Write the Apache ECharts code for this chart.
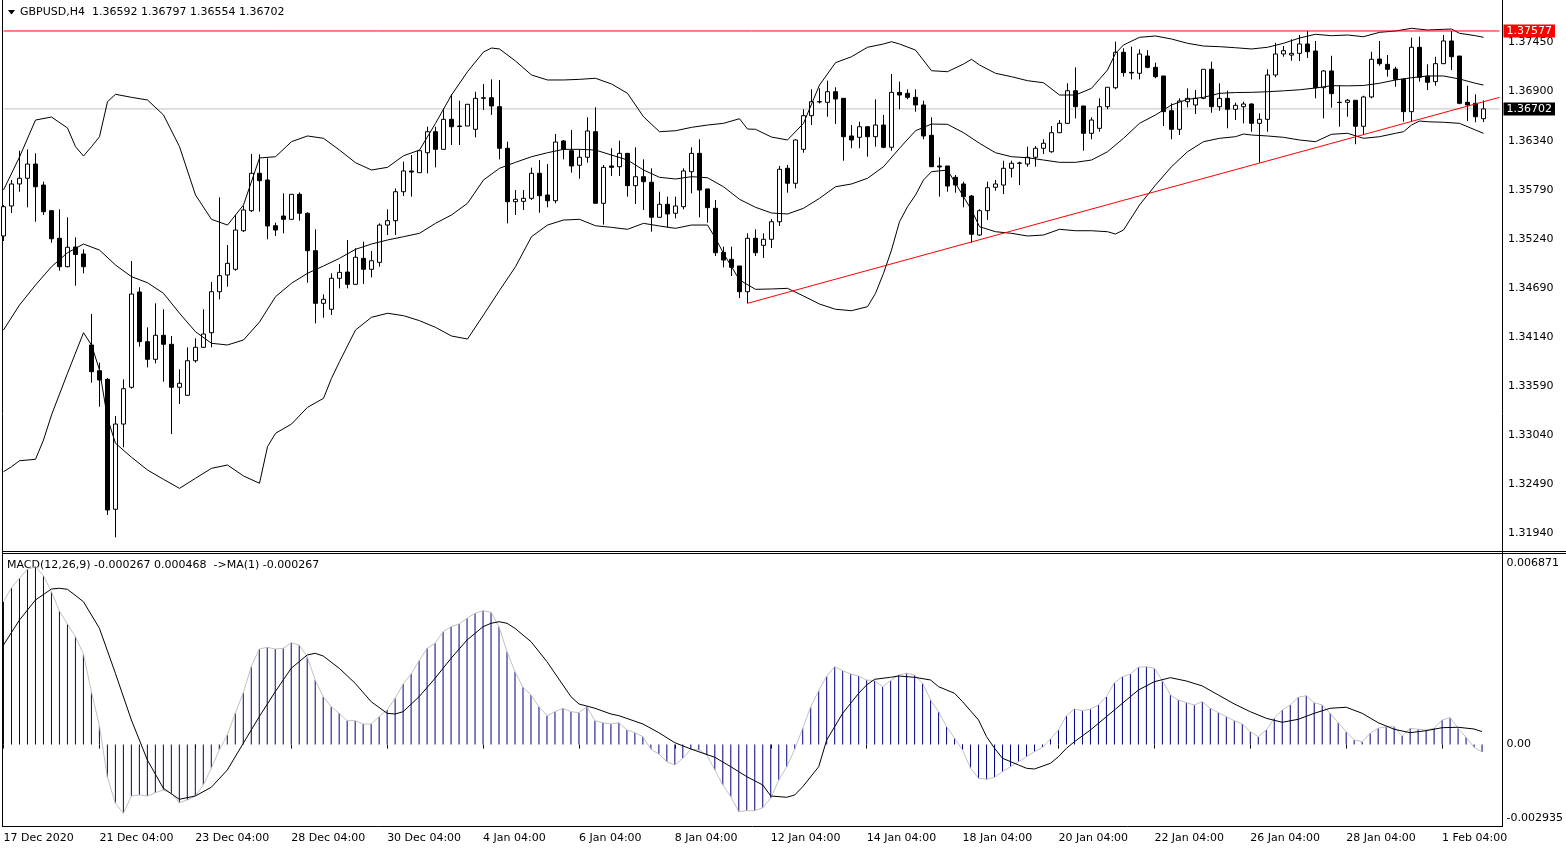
<!DOCTYPE html>
<html><head><meta charset="utf-8">
<script src="https://cdn.jsdelivr.net/npm/echarts/dist/echarts.min.js"></script>
<style>html,body{margin:0;padding:0;background:#fff}#c{width:1566px;height:850px}</style>
</head><body><div id="c"></div>
<script>
// ---------- DATA ----------
const symbolName = 'GBPUSD,H4';
const tickIndex = [0,12,24,36,48,60,72,84,96,108,120,132,144,156,168,180];
const tickLabels = ['17 Dec 2020','21 Dec 04:00','23 Dec 04:00','28 Dec 04:00','30 Dec 04:00','4 Jan 04:00','6 Jan 04:00','8 Jan 04:00','12 Jan 04:00','14 Jan 04:00','18 Jan 04:00','20 Jan 04:00','22 Jan 04:00','26 Jan 04:00','28 Jan 04:00','1 Feb 04:00'];
const priceTicks = [1.37450,1.36900,1.36340,1.35790,1.35240,1.34690,1.34140,1.33590,1.33040,1.32490,1.31940];
const macdTicks = [0.006871,0,-0.002935];

const open = [1.35275,1.35612,1.35859,1.35923,1.36083,1.35847,1.35559,1.35249,1.34930,1.35151,1.35073,1.34051,1.33762,1.33665,1.32206,1.33163,1.33576,1.34646,1.34088,1.33890,1.34160,1.34059,1.33576,1.33486,1.33874,1.34025,1.34189,1.34649,1.34837,1.34901,1.35334,1.35559,1.35979,1.35904,1.35390,1.35499,1.35462,1.35743,1.35530,1.35110,1.34519,1.34452,1.34800,1.34870,1.34732,1.35024,1.34901,1.34979,1.35398,1.35447,1.35772,1.36005,1.35986,1.36210,1.36446,1.36248,1.36585,1.36510,1.36510,1.36473,1.36821,1.36828,1.36727,1.36260,1.35660,1.35664,1.35698,1.35979,1.35735,1.35671,1.36342,1.36233,1.36069,1.36159,1.36446,1.35642,1.36061,1.36053,1.36203,1.35840,1.35941,1.35878,1.35485,1.35631,1.35530,1.35604,1.35997,1.36203,1.35803,1.35586,1.35092,1.35013,1.34938,1.34649,1.35249,1.35170,1.35238,1.35435,1.36035,1.35867,1.36248,1.36626,1.36783,1.36776,1.36895,1.36821,1.36398,1.36383,1.36502,1.36390,1.36521,1.36271,1.36888,1.36877,1.36832,1.36746,1.36406,1.36061,1.36061,1.35934,1.35859,1.35724,1.35286,1.35559,1.35822,1.35847,1.36035,1.36091,1.36083,1.36159,1.36260,1.36221,1.36435,1.36540,1.36906,1.36735,1.36428,1.36484,1.36727,1.36940,1.37338,1.37113,1.37102,1.37296,1.37169,1.37072,1.36682,1.36473,1.36783,1.36746,1.36821,1.37147,1.36727,1.36821,1.36698,1.36727,1.36757,1.36540,1.36585,1.37083,1.37319,1.37307,1.37326,1.37431,1.37352,1.36940,1.37128,1.36776,1.36776,1.36799,1.36507,1.36836,1.37262,1.37203,1.37150,1.37034,1.36671,1.37394,1.37068,1.37008,1.37210,1.37465,1.37296,1.36776,1.36765,1.36592];
const high = [1.35623,1.35904,1.36233,1.36248,1.36203,1.35885,1.35567,1.35575,1.35485,1.35260,1.35125,1.34399,1.33852,1.33680,1.33253,1.33665,1.34994,1.34699,1.34249,1.34519,1.34452,1.34152,1.33778,1.34025,1.34126,1.34452,1.34758,1.35709,1.35174,1.35511,1.35612,1.36196,1.36192,1.36147,1.35424,1.35754,1.35746,1.35765,1.35541,1.35350,1.34620,1.34856,1.34960,1.35230,1.35137,1.35211,1.35106,1.35417,1.35575,1.35810,1.36109,1.36184,1.36233,1.36502,1.36502,1.36709,1.36866,1.36794,1.36754,1.36895,1.36982,1.37034,1.37027,1.36334,1.35791,1.35791,1.36042,1.36128,1.36083,1.36420,1.36353,1.36465,1.36248,1.36608,1.36720,1.36072,1.36260,1.36345,1.36207,1.36271,1.36136,1.36035,1.35772,1.35716,1.35716,1.36035,1.36271,1.36361,1.35803,1.35679,1.35155,1.35155,1.34938,1.35305,1.35350,1.35305,1.35466,1.36061,1.36072,1.36361,1.36698,1.36922,1.36933,1.37019,1.36945,1.36821,1.36521,1.36558,1.36510,1.36810,1.36634,1.37094,1.37008,1.36922,1.36922,1.36794,1.36608,1.36159,1.36061,1.35960,1.35885,1.35735,1.35575,1.35885,1.35904,1.36120,1.36120,1.36109,1.36278,1.36285,1.36361,1.36510,1.36577,1.36990,1.37169,1.36735,1.36608,1.36821,1.36945,1.37457,1.37383,1.37401,1.37371,1.37363,1.37221,1.37072,1.36765,1.36821,1.36933,1.36914,1.37147,1.37232,1.36990,1.36906,1.36772,1.36783,1.36765,1.36653,1.37147,1.37445,1.37408,1.37484,1.37532,1.37577,1.37465,1.37139,1.37299,1.36963,1.36813,1.36799,1.36850,1.37344,1.37465,1.37307,1.37176,1.37046,1.37502,1.37513,1.37203,1.37288,1.37532,1.37577,1.37296,1.36963,1.36866,1.36797];
const low = [1.35219,1.35533,1.35772,1.35597,1.35435,1.35511,1.35199,1.34885,1.34923,1.34717,1.34856,1.33627,1.33358,1.32142,1.31891,1.32902,1.33560,1.34032,1.33800,1.33845,1.33639,1.33051,1.33388,1.33478,1.33852,1.34017,1.34025,1.34564,1.34705,1.34885,1.35320,1.35544,1.35548,1.35238,1.35275,1.35305,1.35460,1.35447,1.34750,1.34294,1.34357,1.34388,1.34687,1.34687,1.34730,1.34736,1.34811,1.34930,1.35286,1.35286,1.35724,1.35716,1.35986,1.35979,1.36046,1.36246,1.36297,1.36297,1.36510,1.36383,1.36690,1.36634,1.36136,1.35417,1.35511,1.35567,1.35679,1.35536,1.35597,1.35642,1.36136,1.35986,1.35918,1.36098,1.35640,1.35402,1.35949,1.35949,1.35716,1.35634,1.35567,1.35323,1.35483,1.35372,1.35473,1.35575,1.35754,1.35485,1.35424,1.35050,1.34923,1.34826,1.34578,1.34519,1.35050,1.35028,1.35140,1.35387,1.35761,1.35810,1.36210,1.36521,1.36763,1.36614,1.36532,1.36120,1.36260,1.36260,1.36165,1.36278,1.36260,1.36233,1.36698,1.36810,1.36671,1.36361,1.36050,1.35716,1.35772,1.35761,1.35597,1.35199,1.35275,1.35454,1.35783,1.35746,1.35933,1.35847,1.36053,1.36053,1.36196,1.36210,1.36431,1.36532,1.36596,1.36233,1.36361,1.36446,1.36698,1.36922,1.37064,1.37034,1.37034,1.37158,1.37046,1.36510,1.36361,1.36409,1.36720,1.36645,1.36810,1.36659,1.36682,1.36484,1.36577,1.36540,1.36446,1.36098,1.36446,1.37057,1.37288,1.37243,1.37240,1.37274,1.36821,1.36596,1.36716,1.36502,1.36614,1.36305,1.36417,1.36821,1.37187,1.37064,1.36951,1.36558,1.36558,1.37008,1.36914,1.36963,1.37206,1.37139,1.36754,1.36566,1.36552,1.36554];
const close = [1.35604,1.35859,1.35923,1.36083,1.35828,1.35548,1.35244,1.34930,1.35148,1.35067,1.34930,1.33751,1.33658,1.32198,1.33163,1.33560,1.34623,1.34088,1.33890,1.34160,1.34059,1.33576,1.33621,1.33874,1.34025,1.34174,1.34649,1.34829,1.34968,1.35342,1.35567,1.35979,1.35896,1.35387,1.35342,1.35462,1.35743,1.35530,1.35110,1.34519,1.34564,1.34800,1.34867,1.34732,1.35036,1.34901,1.34997,1.35398,1.35447,1.35772,1.36005,1.35993,1.36233,1.36446,1.36248,1.36585,1.36502,1.36504,1.36754,1.36821,1.36828,1.36735,1.36260,1.35660,1.35687,1.35698,1.35979,1.35727,1.35671,1.36330,1.36248,1.36061,1.36159,1.36454,1.35642,1.36046,1.36046,1.36203,1.35840,1.35941,1.35885,1.35485,1.35631,1.35522,1.35612,1.36005,1.36203,1.35791,1.35593,1.35087,1.35005,1.34923,1.34649,1.35249,1.35087,1.35238,1.35435,1.36024,1.35867,1.36353,1.36626,1.36783,1.36780,1.36895,1.36813,1.36390,1.36353,1.36502,1.36390,1.36521,1.36271,1.36888,1.36858,1.36832,1.36746,1.36398,1.36053,1.36050,1.35836,1.35847,1.35716,1.35294,1.35559,1.35817,1.35859,1.36035,1.36091,1.36095,1.36159,1.36260,1.36316,1.36435,1.36540,1.36906,1.36727,1.36428,1.36577,1.36727,1.36945,1.37338,1.37109,1.37105,1.37319,1.37169,1.37064,1.36671,1.36473,1.36791,1.36821,1.36821,1.37147,1.36727,1.36821,1.36698,1.36742,1.36757,1.36540,1.36585,1.37083,1.37319,1.37356,1.37326,1.37431,1.37344,1.36940,1.37128,1.36873,1.36774,1.36799,1.36507,1.36836,1.37259,1.37210,1.37147,1.37034,1.36671,1.37394,1.37057,1.37001,1.37210,1.37465,1.37288,1.36765,1.36746,1.36614,1.36702];

const bbUpper = [[0,1.35791],[2,1.36162],[4,1.36577],[6,1.36611],[8,1.36488],[9,1.36278],[10,1.36173],[11,1.36278],[12,1.36390],[13,1.36783],[14,1.36866],[16,1.36832],[18,1.36802],[20,1.36634],[22,1.36278],[24,1.35735],[26,1.35462],[28,1.35398],[30,1.35623],[32,1.36151],[34,1.36165],[36,1.36334],[38,1.36398],[40,1.36372],[42,1.36240],[44,1.36098],[46,1.36016],[48,1.36046],[50,1.36176],[52,1.36240],[54,1.36540],[56,1.36858],[58,1.37120],[60,1.37341],[61,1.37386],[62,1.37375],[64,1.37240],[66,1.37083],[68,1.37027],[70,1.37027],[72,1.37034],[74,1.37046],[76,1.36982],[78,1.36877],[80,1.36614],[82,1.36446],[84,1.36457],[86,1.36495],[88,1.36521],[90,1.36540],[92,1.36592],[93,1.36476],[94,1.36473],[96,1.36386],[98,1.36353],[100,1.36540],[102,1.36970],[104,1.37221],[106,1.37288],[108,1.37394],[110,1.37431],[111,1.37457],[112,1.37431],[114,1.37363],[116,1.37131],[118,1.37120],[120,1.37206],[121,1.37259],[122,1.37195],[124,1.37102],[126,1.37064],[128,1.37019],[130,1.36996],[132,1.36858],[134,1.36858],[136,1.36933],[138,1.37139],[139,1.37326],[140,1.37420],[142,1.37506],[144,1.37521],[146,1.37487],[148,1.37439],[150,1.37408],[152,1.37401],[154,1.37389],[156,1.37375],[158,1.37394],[160,1.37439],[162,1.37498],[164,1.37540],[166,1.37524],[168,1.37532],[170,1.37513],[172,1.37562],[174,1.37577],[176,1.37607],[178,1.37588],[180,1.37596],[181,1.37599],[182,1.37551],[184,1.37524],[185,1.37506]];
const bbMiddle = [[0,1.34219],[2,1.34500],[4,1.34724],[6,1.34930],[8,1.35087],[10,1.35185],[12,1.35117],[14,1.34949],[16,1.34818],[18,1.34750],[20,1.34631],[22,1.34407],[24,1.34200],[26,1.34070],[28,1.34051],[30,1.34107],[32,1.34309],[34,1.34593],[36,1.34744],[38,1.34856],[40,1.34938],[42,1.35024],[44,1.35125],[46,1.35185],[48,1.35230],[50,1.35267],[52,1.35305],[54,1.35417],[56,1.35511],[58,1.35642],[60,1.35904],[62,1.36035],[64,1.36102],[66,1.36165],[68,1.36210],[70,1.36248],[72,1.36248],[74,1.36240],[76,1.36184],[78,1.36128],[80,1.36016],[82,1.35934],[84,1.35915],[86,1.35941],[88,1.35929],[90,1.35828],[92,1.35687],[94,1.35597],[96,1.35533],[98,1.35522],[100,1.35586],[102,1.35698],[104,1.35828],[106,1.35859],[108,1.35923],[110,1.36053],[112,1.36260],[114,1.36457],[116,1.36532],[118,1.36529],[120,1.36435],[122,1.36316],[124,1.36210],[126,1.36165],[128,1.36154],[130,1.36128],[132,1.36102],[134,1.36102],[136,1.36128],[138,1.36221],[140,1.36372],[142,1.36540],[144,1.36634],[146,1.36746],[148,1.36810],[150,1.36832],[152,1.36877],[154,1.36886],[156,1.36888],[158,1.36895],[160,1.36905],[162,1.36917],[164,1.36937],[166,1.36963],[168,1.36961],[170,1.36965],[172,1.36990],[174,1.37027],[176,1.37052],[178,1.37072],[180,1.37072],[182,1.37038],[184,1.36990],[185,1.36970]];
const bbLower = [[0,1.32628],[1,1.32684],[2,1.32751],[4,1.32767],[5,1.32984],[6,1.33265],[8,1.33733],[10,1.34189],[11,1.34051],[12,1.33770],[13,1.33227],[14,1.32947],[16,1.32790],[18,1.32647],[20,1.32542],[22,1.32441],[24,1.32554],[26,1.32666],[28,1.32703],[30,1.32580],[32,1.32498],[33,1.32909],[34,1.33059],[36,1.33163],[38,1.33351],[40,1.33452],[41,1.33677],[42,1.33863],[44,1.34219],[46,1.34362],[48,1.34407],[50,1.34380],[52,1.34324],[54,1.34249],[56,1.34152],[58,1.34118],[60,1.34388],[62,1.34663],[64,1.34930],[66,1.35267],[68,1.35398],[70,1.35454],[72,1.35462],[74,1.35390],[76,1.35372],[78,1.35350],[80,1.35417],[82,1.35387],[84,1.35361],[86,1.35398],[88,1.35398],[89,1.35249],[90,1.35080],[92,1.34781],[94,1.34676],[96,1.34680],[98,1.34687],[100,1.34601],[102,1.34511],[104,1.34452],[106,1.34436],[108,1.34481],[109,1.34631],[110,1.34856],[111,1.35117],[112,1.35435],[113,1.35604],[114,1.35735],[115,1.35904],[116,1.35997],[118,1.36016],[119,1.35867],[120,1.35716],[121,1.35567],[122,1.35379],[124,1.35323],[126,1.35305],[128,1.35275],[130,1.35286],[132,1.35350],[134,1.35334],[136,1.35334],[138,1.35323],[139,1.35297],[140,1.35342],[142,1.35623],[144,1.35847],[146,1.36053],[148,1.36221],[150,1.36334],[152,1.36372],[154,1.36390],[155,1.36420],[156,1.36409],[158,1.36398],[160,1.36383],[162,1.36353],[164,1.36334],[166,1.36417],[168,1.36428],[170,1.36372],[172,1.36390],[174,1.36428],[175,1.36446],[176,1.36521],[177,1.36566],[178,1.36558],[180,1.36552],[182,1.36540],[184,1.36465],[185,1.36428]];
const trendLine = [[93,1.34519],[187,1.36832]];
const resistanceLevel = 1.37577;
const bidLevel = 1.36702;

const macdValues = [0.005152,0.005656,0.005995,0.006320,0.006413,0.006089,0.005512,0.004816,0.004348,0.003890,0.003266,0.001907,0.000681,-0.001179,-0.002116,-0.002477,-0.001853,-0.001817,-0.001853,-0.001734,-0.001637,-0.001756,-0.002095,-0.001997,-0.001853,-0.001456,-0.000854,-0.000195,0.000346,0.001128,0.001871,0.002808,0.003446,0.003508,0.003446,0.003472,0.003673,0.003591,0.003169,0.002329,0.001727,0.001366,0.001128,0.000862,0.000862,0.000743,0.000743,0.001006,0.001247,0.001669,0.002185,0.002545,0.003025,0.003472,0.003652,0.004070,0.004250,0.004348,0.004553,0.004733,0.004827,0.004769,0.004250,0.003349,0.002628,0.002066,0.001788,0.001366,0.001042,0.001186,0.001309,0.001186,0.001150,0.001366,0.000862,0.000789,0.000743,0.000789,0.000526,0.000429,0.000285,-0.000169,-0.000339,-0.000616,-0.000735,-0.000494,-0.000169,-0.000195,-0.000375,-0.000916,-0.001456,-0.001878,-0.002419,-0.002383,-0.002383,-0.002275,-0.001936,-0.001276,-0.000797,-0.000169,0.000588,0.001366,0.001943,0.002473,0.002808,0.002664,0.002545,0.002473,0.002329,0.002304,0.002087,0.002304,0.002509,0.002570,0.002509,0.002210,0.001608,0.001186,0.000645,0.000227,-0.000195,-0.000854,-0.001215,-0.001251,-0.001179,-0.000977,-0.000797,-0.000616,-0.000436,-0.000256,-0.000097,0.000202,0.000526,0.001042,0.001283,0.001222,0.001283,0.001428,0.001727,0.002231,0.002448,0.002545,0.002787,0.002808,0.002751,0.002304,0.001788,0.001608,0.001510,0.001428,0.001547,0.001309,0.001150,0.001006,0.000862,0.000743,0.000465,0.000285,0.000526,0.000948,0.001247,0.001428,0.001703,0.001764,0.001510,0.001428,0.001128,0.000789,0.000465,0.000166,0.000105,0.000407,0.000588,0.000645,0.000645,0.000310,0.000588,0.000552,0.000526,0.000588,0.000887,0.000970,0.000588,0.000262,-0.000100,-0.000267];
const macdSignal = [[0,0.003591],[2,0.004492],[4,0.005213],[6,0.005609],[7,0.005635],[8,0.005599],[10,0.005152],[12,0.004193],[14,0.002570],[16,0.000887],[18,-0.000555],[20,-0.001575],[22,-0.001972],[24,-0.001853],[26,-0.001539],[28,-0.000916],[30,0.000047],[32,0.001006],[34,0.001907],[36,0.002751],[38,0.003230],[39,0.003291],[40,0.003194],[42,0.002751],[44,0.002210],[46,0.001547],[48,0.001128],[49,0.001103],[50,0.001186],[52,0.001727],[54,0.002390],[56,0.003111],[58,0.003771],[60,0.004250],[61,0.004373],[62,0.004430],[63,0.004373],[64,0.004190],[66,0.003710],[68,0.002989],[71,0.001727],[72,0.001464],[74,0.001309],[76,0.001103],[77,0.001042],[80,0.000743],[82,0.000429],[84,0.000068],[86,-0.000159],[89,-0.000458],[91,-0.000797],[93,-0.001157],[95,-0.001456],[96,-0.001853],[98,-0.001900],[99,-0.001817],[100,-0.001518],[102,-0.000797],[103,0.000166],[105,0.001128],[107,0.001849],[108,0.002149],[109,0.002354],[111,0.002426],[112,0.002473],[114,0.002426],[116,0.002329],[117,0.002087],[119,0.001849],[120,0.001547],[122,0.000887],[123,0.000285],[124,-0.000133],[125,-0.000494],[127,-0.000735],[128,-0.000854],[129,-0.000880],[131,-0.000674],[132,-0.000436],[133,-0.000133],[134,0.000105],[136,0.000526],[138,0.001006],[140,0.001489],[142,0.001968],[144,0.002268],[146,0.002412],[148,0.002293],[150,0.002113],[152,0.001788],[154,0.001464],[156,0.001186],[158,0.000948],[160,0.000804],[162,0.000912],[164,0.001128],[166,0.001309],[168,0.001345],[170,0.001128],[172,0.000789],[174,0.000552],[176,0.000429],[178,0.000501],[180,0.000609],[182,0.000624],[184,0.000562],[185,0.000468]];

// ---------- BUILD ----------
const FONT = '"DejaVu Sans", Verdana, sans-serif';
const N = 188;
const categories = [];
for (let i = 0; i < N; i++) {
  const k = tickIndex.indexOf(i);
  categories.push(k >= 0 ? tickLabels[k] : '');
}
const candles = open.map((o, i) => [o, close[i], low[i], high[i]]);
const last = open.length - 1;
const headerText = symbolName + '  ' + [open[last], high[last], low[last], close[last]].map(v => v.toFixed(5)).join(' ');
const macdLast = macdValues[macdValues.length - 1];
const sigLast = macdSignal[macdSignal.length - 1][1];
const macdText = 'MACD(12,26,9) ' + macdLast.toFixed(6) + ' ' + sigLast.toFixed(6) + '  ->MA(1) ' + macdLast.toFixed(6);

const priceMin = 1.317487, priceMax = 1.379026;
const macdMin = macdTicks[2], macdMax = macdTicks[0];
const showTick = (idx, val) => val !== '';
const levelLine = lvl => [[0, lvl], [N - 1, lvl]];

const chart = echarts.init(document.getElementById('c'), null, {width: 1566, height: 850});
const lineCommon = {type: 'line', symbol: 'none', showSymbol: false, animation: false, silent: true};
const levelSeries = (name, lvl, lineColor, bg, z) => Object.assign({}, lineCommon, {
  name: name, xAxisIndex: 0, yAxisIndex: 0, data: levelLine(lvl), z: z,
  color: lineColor, itemStyle: {color: lineColor},
  lineStyle: {color: lineColor, width: 1, type: 'solid'},
  endLabel: {show: true, distance: 4, formatter: () => lvl.toFixed(5), color: '#ffffff', backgroundColor: bg,
    padding: [1, 3, 0, 3], lineHeight: 12, fontSize: 11, fontFamily: FONT}
});

chart.setOption({
  animation: false,
  backgroundColor: '#ffffff',
  grid: [
    {left: 3.5, width: 1496, top: 2, height: 548},
    {left: 3.5, width: 1496, top: 554, height: 272}
  ],
  xAxis: [
    {type: 'category', gridIndex: 0, data: categories, boundaryGap: false,
      axisLine: {show: false}, axisTick: {show: false}, axisLabel: {show: false}, splitLine: {show: false}},
    {type: 'category', gridIndex: 1, data: categories, boundaryGap: false,
      axisLine: {show: false},
      axisTick: {show: true, interval: showTick, length: 4, lineStyle: {color: '#000', width: 1}},
      axisLabel: {show: true, interval: showTick, align: 'left', color: '#000', fontSize: 11, fontFamily: FONT, margin: 7},
      splitLine: {show: false}}
  ],
  yAxis: [
    {type: 'value', gridIndex: 0, position: 'right', offset: 2.5, min: priceMin, max: priceMax,
      splitLine: {show: false}, axisLine: {show: false}, axisTick: {show: false},
      axisLabel: {customValues: priceTicks, formatter: v => v.toFixed(5), color: '#000', fontSize: 11, fontFamily: FONT, margin: 6}},
    {type: 'value', gridIndex: 1, position: 'right', offset: 2.5, min: macdMin, max: macdMax,
      splitLine: {show: false}, axisLine: {show: false}, axisTick: {show: false},
      axisLabel: {customValues: macdTicks, color: '#000', fontSize: 11, fontFamily: FONT, margin: 6,
        formatter: function (v) {
          if (Math.abs(v - macdMax) < 1e-9) return '{t|' + v.toFixed(6) + '}';
          if (Math.abs(v - macdMin) < 1e-9) return '{b|' + v.toFixed(6) + '}';
          return '0.00';
        },
        rich: {
          t: {padding: [18, 0, 0, 0], fontSize: 11, fontFamily: FONT, color: '#000'},
          b: {padding: [0, 0, 16, 0], fontSize: 11, fontFamily: FONT, color: '#000'}
        }}}
  ],
  series: [
    levelSeries('bid', bidLevel, '#c0c0c0', '#000000', 1),
    {type: 'candlestick', name: 'price', xAxisIndex: 0, yAxisIndex: 0, data: candles, barWidth: 5,
      animation: false, silent: true, z: 3,
      itemStyle: {color: '#ffffff', color0: '#000000', borderColor: '#000000', borderColor0: '#000000', borderColorDoji: '#000000', borderWidth: 1}},
    Object.assign({}, lineCommon, {name: 'bbUpper', xAxisIndex: 0, yAxisIndex: 0, data: bbUpper, z: 4, lineStyle: {color: '#000', width: 1}}),
    Object.assign({}, lineCommon, {name: 'bbMiddle', xAxisIndex: 0, yAxisIndex: 0, data: bbMiddle, z: 4, lineStyle: {color: '#000', width: 1}}),
    Object.assign({}, lineCommon, {name: 'bbLower', xAxisIndex: 0, yAxisIndex: 0, data: bbLower, z: 4, lineStyle: {color: '#000', width: 1}}),
    Object.assign({}, lineCommon, {name: 'trend', xAxisIndex: 0, yAxisIndex: 0, data: trendLine, z: 5, lineStyle: {color: '#ff0000', width: 1}}),
    levelSeries('resistance', resistanceLevel, '#ff0000', '#ff0000', 5),
    {type: 'bar', name: 'macd', xAxisIndex: 1, yAxisIndex: 1, data: macdValues, barWidth: 1, animation: false, silent: true,
      itemStyle: {color: '#000080'}},
    Object.assign({}, lineCommon, {name: 'ma1', xAxisIndex: 1, yAxisIndex: 1, data: macdValues, lineStyle: {color: '#c0c0c0', width: 1}}),
    Object.assign({}, lineCommon, {name: 'signal', xAxisIndex: 1, yAxisIndex: 1, data: macdSignal, lineStyle: {color: '#000', width: 1}})
  ],
  graphic: [
    {type: 'line', shape: {x1: 2.5, y1: 0, x2: 2.5, y2: 827}, style: {stroke: '#000', lineWidth: 1}, silent: true},
    {type: 'line', shape: {x1: 1502.5, y1: 0, x2: 1502.5, y2: 827}, style: {stroke: '#000', lineWidth: 1}, silent: true},
    {type: 'line', shape: {x1: 2, y1: 826.5, x2: 1503, y2: 826.5}, style: {stroke: '#000', lineWidth: 1}, silent: true},
    {type: 'line', shape: {x1: 2, y1: 551.5, x2: 1566, y2: 551.5}, style: {stroke: '#000', lineWidth: 1}, silent: true},
    {type: 'line', shape: {x1: 2, y1: 553.5, x2: 1566, y2: 553.5}, style: {stroke: '#000', lineWidth: 1}, silent: true},
    {type: 'polygon', shape: {points: [[8, 10], [15, 10], [11.5, 14.5]]}, style: {fill: '#000'}, silent: true},
    {type: 'text', x: 20, y: 12.5, style: {text: headerText, font: '11px ' + FONT, fill: '#000', verticalAlign: 'middle'}, silent: true},
    {type: 'text', x: 7, y: 565, style: {text: macdText, font: '11px ' + FONT, fill: '#000', verticalAlign: 'middle'}, silent: true}
  ]
});
</script></body></html>
